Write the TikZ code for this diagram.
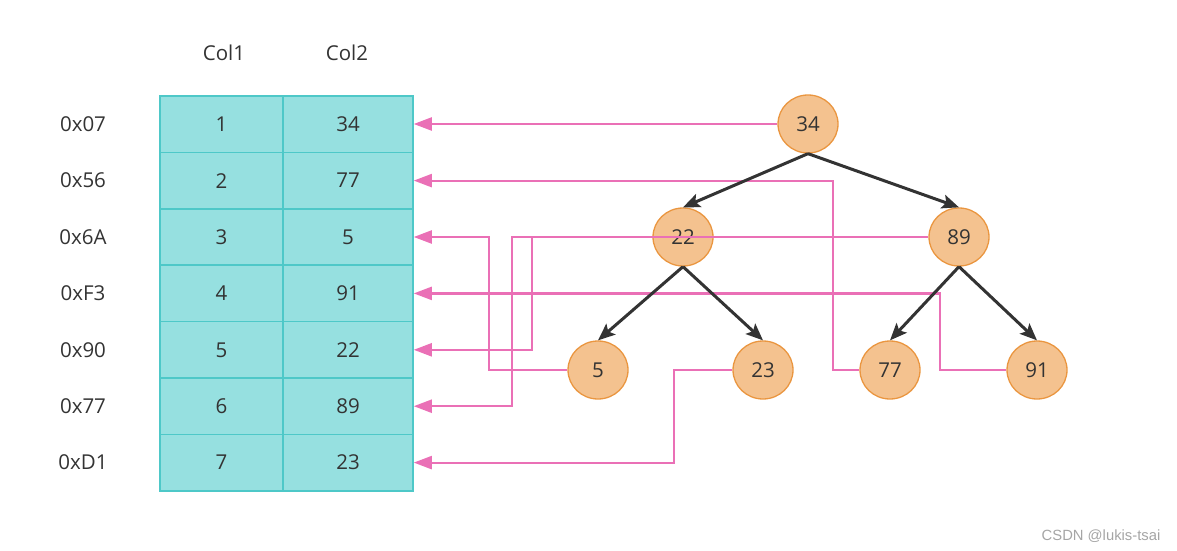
\documentclass[tikz,border=0pt]{standalone}
\usepackage{fontspec}
\setmainfont{Open Sans}
\newfontfamily\wmfont{Liberation Sans}
\usetikzlibrary{arrows.meta,shapes.geometric}
\definecolor{cellfill}{RGB}{150,224,224}
\definecolor{celldraw}{RGB}{78,200,200}
\definecolor{nodefill}{RGB}{244,194,143}
\definecolor{nodedraw}{RGB}{234,150,64}
\definecolor{pinkline}{RGB}{234,112,182}
\definecolor{txt}{RGB}{51,51,51}
\definecolor{wm}{RGB}{165,165,165}
\tikzset{
  lbl/.style={text=txt,font=\fontsize{20.5}{24}\selectfont,inner sep=0pt},
  cell/.style={rectangle,draw=celldraw,fill=cellfill,line width=1.5pt,minimum height=56.4pt,inner sep=0pt,text=txt,font=\fontsize{20.5}{24}\selectfont},
  cellA/.style={cell,minimum width=123pt},
  cellB/.style={cell,minimum width=130pt},
  tnode/.style={ellipse,draw=nodedraw,fill=nodefill,line width=1.3pt,minimum width=60pt,minimum height=58pt,inner sep=0pt,text=txt,font=\fontsize{20.5}{24}\selectfont},
  pk/.style={draw=pinkline,line width=2.2pt,-{Triangle[length=18pt,width=13pt]}},
  tree/.style={draw=txt,line width=3pt,-{Stealth[length=17pt,width=14pt,inset=3.5pt]}}
}
\begin{document}
\begin{tikzpicture}[x=1pt,y=-1pt]
\useasboundingbox (0,0) rectangle (1177,551);
% header labels
\node[lbl] (h1) at (224,53) {Col1};
\node[lbl] (h2) at (347,53) {Col2};
% table
\foreach \i/\yy/\addr/\va/\vb in {1/124.2/0x07/1/34,2/180.6/0x56/2/77,3/237/0x6A/3/5,4/293.4/0xF3/4/91,5/349.8/0x90/5/22,6/406.2/0x77/6/89,7/462.6/0xD1/7/23}{
  \node[lbl] (r\i) at (83,\yy) {\addr};
  \node[cellA] (a\i) at (221.5,\yy) {\va};
  \node[cellB] (b\i) at (348,\yy) {\vb};
}
% tree nodes
\node[tnode] (t34) at (808,124) {34};
\node[tnode] (t22) at (683,237) {22};
\node[tnode] (t89) at (959,237) {89};
\node[tnode] (t5) at (598,370) {5};
\node[tnode] (t23) at (763,370) {23};
\node[tnode] (t77) at (890,370) {77};
\node[tnode] (t91) at (1037,370) {91};
% bend columns
\coordinate (k2) at (833,0);
\coordinate (k3) at (489,0);
\coordinate (k4) at (940,0);
\coordinate (k5) at (532,0);
\coordinate (k6) at (512,0);
\coordinate (k7) at (674,0);
% pink connectors
\draw[pk] (t34.west) -- (t34.west -| b1.east);
\draw[pk] (t77.west) -- (k2 |- t77.west) |- (b2.east);
\draw[pk] (t5.west) -- (k3 |- t5.west) |- (b3.east);
\draw[pk] (t91.west) -- (k4 |- t91.west) |- (b4.east);
\draw[pk] (t22.west) -- (k5 |- t22.west) |- (b5.east);
\draw[pk] (t89.west) -- (k6 |- t89.west) |- (b6.east);
\draw[pk] (t23.west) -- (k7 |- t23.west) |- (b7.east);
% tree edges
\draw[tree] (t34.south) -- (t22.north);
\draw[tree] (t34.south) -- (t89.north);
\draw[tree] (t22.south) -- (t5.north);
\draw[tree] (t22.south) -- (t23.north);
\draw[tree] (t89.south) -- (t77.north);
\draw[tree] (t89.south) -- (t91.north);
% watermark
\node[text=wm,font=\wmfont\fontsize{14.8}{17}\selectfont,inner sep=0pt] (wmk) at (1101,536) {CSDN @lukis-tsai};
\end{tikzpicture}
\end{document}
